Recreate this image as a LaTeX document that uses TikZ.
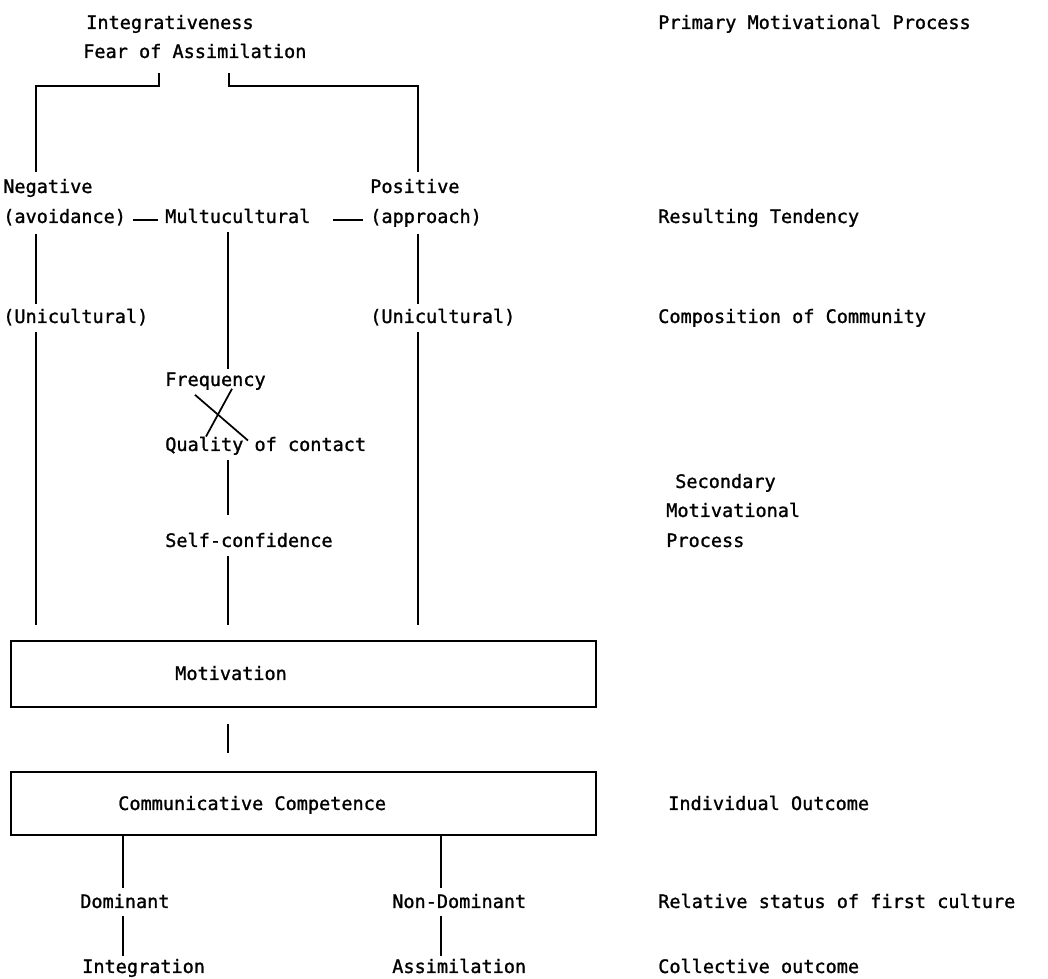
\documentclass[tikz,border=0pt]{standalone}
\usepackage{fontspec}
\setmonofont{DejaVu Sans Mono}[FakeBold=1.2]
\usetikzlibrary{positioning,calc}

\begin{document}
\begin{tikzpicture}[x=0.75pt,y=-0.75pt,
    lbl/.style={font=\ttfamily\fontsize{13.9}{16}\selectfont, inner sep=0pt, anchor=west, text height=1.6ex, text depth=.45ex, yshift=-2pt},
    link/.style={line width=1.3pt},
    frame/.style={draw, line width=1.3pt, minimum width=438.75pt, inner sep=0pt}
]
    \useasboundingbox (0,0) rectangle (1048,978);

    % columns of the scheme
    \coordinate (colL) at (36,0);
    \coordinate (colM) at (228,0);
    \coordinate (colR) at (418,0);
    \coordinate (colD) at (123,0);
    \coordinate (colN) at (441,0);
    \coordinate (brL) at (159,73);
    \coordinate (brR) at (229,73);

    % primary motivational process
    \node[lbl] (integ) at (86,23) {Integrativeness};
    \node[lbl] (fear) at (83,52) {Fear of Assimilation};

    % resulting tendency
    \node[lbl] (neg) at (3,187) {Negative};
    \node[lbl] (pos) at (370,187) {Positive};
    \node[lbl] (avoid) at (3,217) {(avoidance)};
    \node[lbl] (multi) at (165,217) {Multucultural};
    \node[lbl] (approach) at (370,217) {(approach)};

    % composition of community
    \node[lbl] (uniL) at (3,317) {(Unicultural)};
    \node[lbl] (uniR) at (370,317) {(Unicultural)};

    % secondary process
    \node[lbl] (freq) at (165,380) {Frequency};
    \node[lbl] (quality) at (165,445) {Quality of contact};
    \node[lbl] (selfconf) at (165,541) {Self-confidence};

    % boxes
    \node[frame, minimum height=49.5pt] (motivbox) at (303.5,674) {};
    \node[lbl] (motiv) at (175,674) {Motivation};
    \node[frame, minimum height=47.25pt] (commbox) at (303.5,803.5) {};
    \node[lbl] (comm) at (118,804) {Communicative Competence};

    % outcomes
    \node[lbl] (dom) at (80,902) {Dominant};
    \node[lbl] (nondom) at (392,902) {Non-Dominant};
    \node[lbl] (integr) at (82,967) {Integration};
    \node[lbl] (assim) at (392,967) {Assimilation};

    % level labels
    \node[lbl] (lvlprim) at (658,23) {Primary Motivational Process};
    \node[lbl] (lvltend) at (658,217) {Resulting Tendency};
    \node[lbl] (lvlcomp) at (658,317) {Composition of Community};
    \node[lbl] (lvlsec) at (675,482) {Secondary};
    \node[lbl] (lvlmot) at (666,511) {Motivational};
    \node[lbl] (lvlproc) at (666,541) {Process};
    \node[lbl] (lvlind) at (668,804) {Individual Outcome};
    \node[lbl] (lvlrel) at (658,902) {Relative status of first culture};
    \node[lbl] (lvlcoll) at (658,967) {Collective outcome};

    % bracket
    \draw[link] (brL) -- ++(0,13) -| ([yshift=9pt]colL |- neg.north);
    \draw[link] (brR) -- ++(0,13) -| ([yshift=9pt]colR |- pos.north);

    \draw[link, shorten <=5pt, shorten >=5pt] (avoid.east) -- (multi.west);
    \draw[link, shorten <=17pt, shorten >=5pt] (multi.east) -- (approach.west);

    % left column
    \draw[link, shorten <=6pt, shorten >=7pt] (colL |- avoid.south) -- (colL |- uniL.north);
    \draw[link, shorten <=5pt, shorten >=11.25pt] (colL |- uniL.south) -- (colL |- motivbox.north);

    % right column
    \draw[link, shorten <=6pt, shorten >=7pt] (colR |- approach.south) -- (colR |- uniR.north);
    \draw[link, shorten <=5pt, shorten >=11.25pt] (colR |- uniR.south) -- (colR |- motivbox.north);

    % middle column
    \draw[link, shorten <=4.5pt, shorten >=6pt] (colM |- multi.south) -- (colM |- freq.north);
    \draw[link] ($(freq.south west)+(30,6)$) -- ($(quality.north west)+(83,-1)$);
    \draw[link] ($(freq.south west)+(67,0)$) -- ($(quality.north west)+(41,-5)$);
    \draw[link, shorten <=4.5pt, shorten >=17pt] (colM |- quality.south) -- (colM |- selfconf.north);
    \draw[link, shorten <=5pt, shorten >=11.25pt] (colM |- selfconf.south) -- (colM |- motivbox.north);
    \draw[link, shorten <=12pt, shorten >=13.5pt] (colM |- motivbox.south) -- (colM |- commbox.north);

    % outcomes
    \draw[link, shorten >=8pt] (colD |- commbox.south) -- (colD |- dom.north);
    \draw[link, shorten <=3.5pt, shorten >=6pt] (colD |- dom.south) -- (colD |- integr.north);
    \draw[link, shorten >=8pt] (colN |- commbox.south) -- (colN |- nondom.north);
    \draw[link, shorten <=3.5pt, shorten >=6pt] (colN |- nondom.south) -- (colN |- assim.north);
\end{tikzpicture}
\end{document}
